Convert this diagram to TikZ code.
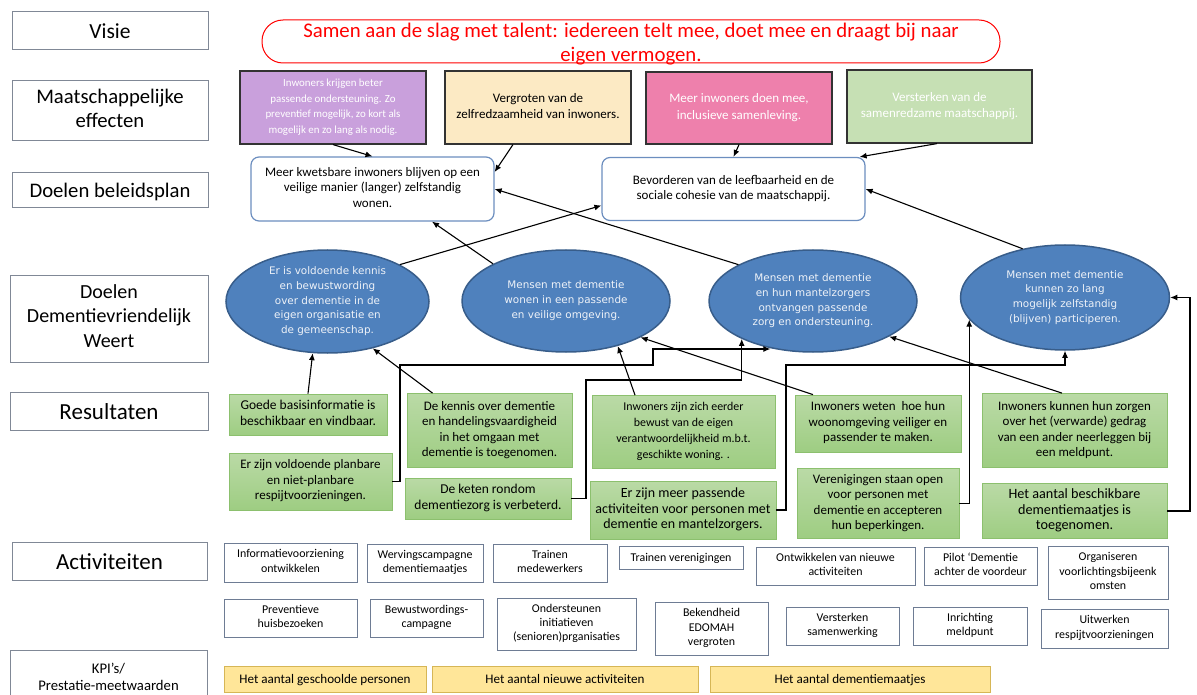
\documentclass[tikz,border=0pt]{standalone}
\usepackage{fontspec}
\setmainfont{Carlito}
\newfontfamily\ellfont{DejaVu Sans}
\usetikzlibrary{arrows.meta,shapes.geometric}

\definecolor{lblgray}{RGB}{128,136,150}
\definecolor{doelblue}{RGB}{108,142,191}
\definecolor{goalblue}{RGB}{79,129,189}
\definecolor{goalline}{RGB}{56,93,138}
\definecolor{goaltext}{RGB}{238,242,248}
\definecolor{restop}{RGB}{186,218,166}
\definecolor{resbot}{RGB}{158,205,130}
\definecolor{resline}{RGB}{140,192,110}
\definecolor{actline}{RGB}{110,124,148}
\definecolor{kpifill}{RGB}{255,230,153}
\definecolor{kpiline}{RGB}{214,182,86}
\definecolor{effpurple}{RGB}{201,160,220}
\definecolor{effyellow}{RGB}{252,234,196}
\definecolor{effpink}{RGB}{238,128,172}
\definecolor{effgreen}{RGB}{198,224,180}

\newcommand\fs[2]{\fontsize{#1}{#2}\selectfont}
\newcommand\tstrut{\vrule width 0pt height .95em depth .25em\relax}

\begin{document}
\begin{tikzpicture}[x=1pt, y=-1pt]

\tikzset{%
    txt/.style={align=center, inner sep=0,
        execute at begin node=\tstrut, execute at end node=\tstrut},
    lbl/.style={txt, draw=lblgray, fill=white, line width=1pt, font=\fs{20.7}{24.5}},
    vision/.style={draw=red, line width=1pt, rounded corners=21pt},
    eff/.style={txt, draw=black!80, line width=1.2pt, font=\fs{13}{16.5}},
    doel/.style={txt, draw=doelblue, fill=white, line width=1.2pt, rounded corners=8pt,
        font=\fs{13}{15.5}},
    goal/.style={txt, ellipse, draw=goalline, fill=goalblue, line width=1.5pt, text=goaltext,
        font=\ellfont\fs{10.4}{14.7}},
    resbox/.style={txt, draw=resline, top color=restop, bottom color=resbot, line width=0.8pt,
        font=\fs{13}{15.5}},
    actbox/.style={txt, draw=actline, fill=white, line width=1pt, font=\fs{11.9}{14.3}},
    kpibox/.style={txt, draw=kpiline, fill=kpifill, line width=1pt, font=\fs{13.1}{15}},
    arr/.style={-{Latex[length=7pt,width=6pt]}, line width=1.1pt}
}

\useasboundingbox (0,0) rectangle (1197,695);
\clip (0,0) rectangle (1197,695);

% row labels
\foreach \nm/\cx/\cy/\w/\h/\sz/\txt in {
    visie/110/31/196/38/21.5/{Visie},
    maat/110/111/196/60/20.7/{Maatschappelijke\\effecten},
    beleid/110/190.5/196/35/20.7/{Doelen beleidsplan},
    ddw/109/318.5/198/87/20/{Doelen\\Dementievriendelijk\\Weert},
    resl/109/411/198/38/23/{Resultaten},
    actl/109.5/561/195/38/23/{Activiteiten}}{
    \node[lbl, minimum width=\w, minimum height=\h, font=\fs{\sz}{24.5}] (\nm) at (\cx,\cy) {\txt};
}
\node[lbl, minimum width=197, minimum height=57, font=\fs{14.7}{17}] (kpil)
    at (108.5,678.5) {KPI’s/\\Prestatie-meetwaarden};

\node[vision, minimum width=738, minimum height=43] (vis) at (631,41.5) {};
\node[txt, text=red, font=\fs{20.8}{24}] (vistext) at ([yshift=-3.5pt]vis.center)
    {Samen aan de slag met talent: iedereen telt mee, doet mee en draagt bij naar\\eigen vermogen.};

% maatschappelijke effecten
\node[eff, fill=effpurple, text=white, minimum width=186, minimum height=73, font=\fs{10.9}{15.7}]
    (e1) at (333,107.5)
    {Inwoners krijgen beter\\passende ondersteuning. Zo\\preventief mogelijk, zo kort als\\mogelijk en zo lang als nodig.};
\node[eff, fill=effyellow, minimum width=186, minimum height=73] (e2) at (538,107.5)
    {Vergroten van de\\zelfredzaamheid van inwoners.};
\node[eff, fill=effpink, text=white, minimum width=186, minimum height=72] (e3) at (739,108)
    {Meer inwoners doen mee,\\inclusieve samenleving.};
\node[eff, fill=effgreen, text=white, minimum width=185, minimum height=73] (e4) at (939.5,106.5)
    {Versterken van de\\samenredzame maatschappij.};

% doelen beleidsplan
\node[doel, minimum width=243, minimum height=64] (da) at (372.5,189)
    {Meer kwetsbare inwoners blijven op een\\veilige manier (langer) zelfstandig\\wonen.};
\node[doel, minimum width=263, minimum height=63] (db) at (733.5,189)
    {Bevorderen van de leefbaarheid en de\\sociale cohesie van de maatschappij.};

% doelen dementievriendelijk
\node[goal, minimum width=203, minimum height=103] (g1) at (327.5,301.5)
    {Er is voldoende kennis\\en bewustwording\\over dementie in de\\eigen organisatie en\\de gemeenschap.};
\node[goal, minimum width=208, minimum height=102] (g2) at (566,301)
    {Mensen met dementie\\wonen in een passende\\en veilige omgeving.};
\node[goal, minimum width=208, minimum height=102] (g3) at (813,301)
    {Mensen met dementie\\en hun mantelzorgers\\ontvangen passende\\zorg en ondersteuning.};
\node[goal, minimum width=209, minimum height=105] (g4) at (1065,297.5)
    {Mensen met dementie\\kunnen zo lang\\mogelijk zelfstandig\\(blijven) participeren.};

% resultaten
\node[resbox, minimum width=158, minimum height=41, font=\fs{13.5}{15.8}] (r1) at (308,414.5)
    {Goede basisinformatie is\\beschikbaar en vindbaar.};
\node[resbox, minimum width=163, minimum height=57] (r2) at (310.5,481.5)
    {Er zijn voldoende planbare\\en niet-planbare\\respijtvoorzieningen.};
\node[resbox, minimum width=165, minimum height=74] (r3) at (489.5,430.5)
    {De kennis over dementie\\en handelingsvaardigheid\\in het omgaan met\\dementie is toegenomen.};
\node[resbox, minimum width=166, minimum height=41, font=\fs{13.5}{16.5}] (r4) at (488,498.5)
    {De keten rondom\\dementiezorg is verbeterd.};
\node[resbox, minimum width=183, minimum height=73, font=\fs{11.9}{16.2}] (r5) at (683.5,432)
    {Inwoners zijn zich eerder\\bewust van de eigen\\verantwoordelijkheid m.b.t.\\geschikte woning. .};
\node[resbox, minimum width=186, minimum height=58, font=\fs{14}{15.2}] (r6) at (683,510)
    {Er zijn meer passende\\activiteiten voor personen met\\dementie en mantelzorgers.};
\node[resbox, minimum width=166, minimum height=57] (r7) at (878,423.5)
    {Inwoners weten\ \ hoe hun\\woonomgeving veiliger en\\passender te maken.};
\node[resbox, minimum width=162, minimum height=70] (r8) at (878,503.5)
    {Verenigingen staan open\\voor personen met\\dementie en accepteren\\hun beperkingen.};
\node[resbox, minimum width=185, minimum height=74] (r9) at (1074.5,430.5)
    {Inwoners kunnen hun zorgen\\over het (verwarde) gedrag\\van een ander neerleggen bij\\een meldpunt.};
\node[resbox, minimum width=185, minimum height=55, font=\fs{14.2}{15.2}] (r10) at (1074.5,511)
    {Het aantal beschikbare\\dementiemaatjes is\\toegenomen.};

% activiteiten
\foreach \nm/\cx/\cy/\w/\h/\txt in {
    a1/290.5/562.5/133/39/{Informatievoorziening\\ontwikkelen},
    a2/425/563/116/38/{Wervingscampagne\\dementiemaatjes},
    a3/550/563/114/38/{Trainen\\medewerkers},
    a4/681/557.5/124/23/{Trainen verenigingen},
    a5/835.5/566/159/38/{Ontwikkelen van nieuwe\\activiteiten},
    a6/980.5/566/113/38/{Pilot ‘Dementie\\achter de voordeur},
    a7/1108/572.5/120/53/{Organiseren\\voorlichtingsbijeenk\\omsten},
    b1/290.5/618/133/38/{Preventieve\\huisbezoeken},
    b2/426.5/618/113/38/{Bewustwordings-\\campagne},
    b3/566.5/624/139/52/{Ondersteunen\\initiatieven\\(senioren)prganisaties},
    b4/711.5/628.5/113/53/{Bekendheid\\EDOMAH\\vergroten},
    b5/842.5/626/113/38/{Versterken\\samenwerking},
    b6/970/626/114/38/{Inrichting\\meldpunt},
    b7/1104.5/628.5/127/39/{Uitwerken\\respijtvoorzieningen}}{
    \node[actbox, minimum width=\w, minimum height=\h] (\nm) at (\cx,\cy) {\txt};
}

% KPI's
\foreach \nm/\cx/\w/\txt in {
    k1/325/202/{Het aantal geschoolde personen},
    k2/565/266/{Het aantal nieuwe activiteiten},
    k3/850/280/{Het aantal dementiemaatjes}}{
    \node[kpibox, minimum width=\w, minimum height=26] (\nm) at (\cx,679) {\txt};
}

% bends
\coordinate (b2a) at (400,365);
\coordinate (b2b) at (653,349);
\coordinate (b4a) at (586,380);
\coordinate (b6a) at (786,365);
\coordinate (b10a) at (1190,297.5);

% effecten -> beleidsplan
\draw[arr] (e1.south) -- (da.north);
\draw[arr] ([xshift=-25pt]e2.south) -- ([yshift=17pt]da.east);
\draw[arr] (e3.south) -- (db.north);
\draw[arr] ([xshift=-2.5pt]e4.south) -- ([xshift=-6pt]db.north east);

% dementievriendelijk -> beleidsplan
\draw[arr] (g1.27) -- ([yshift=-16.5pt]db.west);
\draw[arr] (g2.153) -- ([xshift=59.5pt]da.south);
\draw[arr] (g3.154) -- (da.east);
\draw[arr] (g4.131) -- (db.east);

% resultaten -> dementievriendelijk
\draw[arr] (r1.north) -- (g1.254);
\draw[arr] ([xshift=-57pt]r3.north) -- (g1.314);
\draw[arr] (r2.east) -| (b2a) -| (b2b) -- (g3.228 |- b2b);
\draw[arr] (r4.east) -| (b4a) -| (g3.208);
\draw[arr] ([xshift=-48.5pt]r5.north) -- (g2.319);
\draw[arr] ([xshift=-65pt]r7.north) -- (g2.334);
\draw[arr] ([xshift=-12.5pt]r9.north) -- (g3.335);
\draw[arr] (r6.east) -| (b6a) -| (g4.south);
\draw[arr] (r8.east) -| (g4.193);
\draw[arr] (r10.east) -| (b10a) -- (g4.east);

\end{tikzpicture}
\end{document}
